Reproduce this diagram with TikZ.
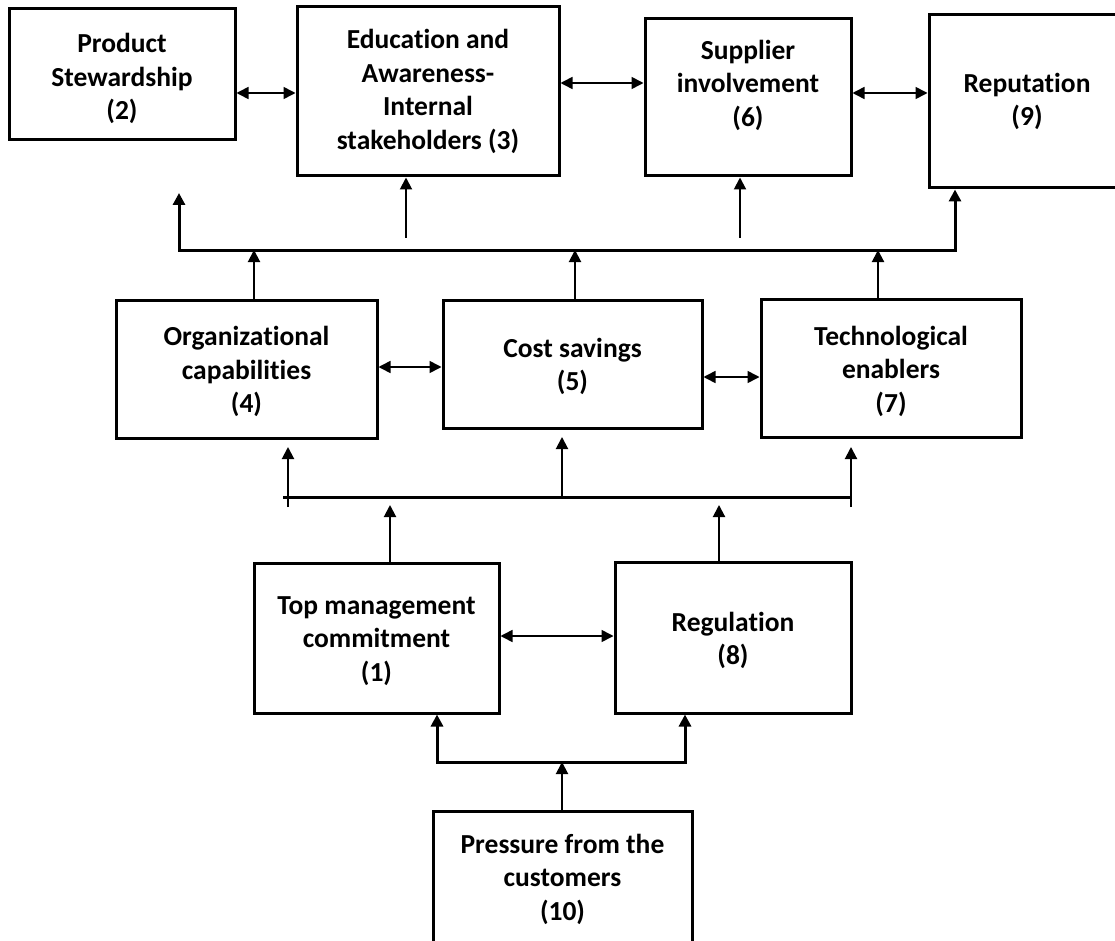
\documentclass[tikz,border=0pt]{standalone}
\usepackage{fontspec}
\setmainfont{Carlito}[Ligatures={NoCommon,NoContextual}]
\usetikzlibrary{arrows.meta}
\newcommand{\nti}{t\kern0pt i}
\begin{document}
\begin{tikzpicture}[x=1pt,y=-1pt,
  box/.style={draw=black, line width=3pt, inner sep=0pt},
  txt/.style={inner sep=0pt, align=center,
    font=\fontsize{27.5}{33.5}\selectfont\bfseries, text=black},
  conn/.style={line width=2pt, -{Triangle[length=12pt,width=12pt]}},
  dconn/.style={line width=1.6pt, {Triangle[length=12pt,width=12pt]}-{Triangle[length=12pt,width=12pt]}},
  busline/.style={line width=3pt},
]
\useasboundingbox (0,0) rectangle (1115,941);

% boxes
\node[box, minimum width=226, minimum height=131] (n2) at (122,74.5) {};
\node[box, minimum width=262, minimum height=169] (n3) at (428,91.5) {};
\node[box, minimum width=206, minimum height=157] (n6) at (748,97.5) {};
\node[box, minimum width=196, minimum height=173] (n9) at (1027,101.5) {};
\node[box, minimum width=261, minimum height=138] (n4) at (246.5,369) {};
\node[box, minimum width=259, minimum height=128] (n5) at (572.5,364) {};
\node[box, minimum width=260, minimum height=138] (n7) at (891,368) {};
\node[box, minimum width=245, minimum height=150] (n1) at (376.5,638) {};
\node[box, minimum width=236, minimum height=151] (n8) at (733,637.5) {};
\node[box, minimum width=259, minimum height=134] (n10) at (562.5,878) {};

% texts
\node[txt] (t2) at ([yshift=-4pt]n2.center) {Product\\Stewardship\\(2)};
\node[txt] (t3) at (n3.center) {Educa\nti on and\\Awareness-\\Internal\\stakeholders (3)};
\node[txt] (t6) at ([yshift=12.5pt]n6.center) {Supplier\\involvement\\(6)};
\node[txt] (t9) at (n9.center) {Reputa\nti on\\(9)};
\node[txt] (t4) at ([yshift=-2.5pt]n4.center) {Organiza\nti onal\\capabili\nti es\\(4)};
\node[txt] (t5) at ([yshift=-2.5pt]n5.center) {Cost savings\\(5)};
\node[txt] (t7) at ([yshift=-3pt]n7.center) {Technological\\enablers\\(7)};
\node[txt] (t1) at ([yshift=-3pt]n1.center) {Top management\\commitment\\(1)};
\node[txt] (t8) at ([yshift=-3pt]n8.center) {Regula\nti on\\(8)};
\node[txt] (t10) at ([yshift=-1pt]n10.center) {Pressure from the\\customers\\(10)};

% horizontal double arrows
\coordinate (y23) at (0,93);
\coordinate (y36) at (0,83);
\coordinate (y69) at (0,93);
\coordinate (y45) at (0,367);
\coordinate (y57) at (0,377);
\coordinate (y18) at (0,636);
\draw[dconn] (n2.east |- y23) -- (n3.west |- y23);
\draw[dconn] (n3.east |- y36) -- (n6.west |- y36);
\draw[dconn] (n6.east |- y69) -- (n9.west |- y69);
\draw[dconn] (n4.east |- y45) -- (n5.west |- y45);
\draw[dconn] (n5.east |- y57) -- (n7.west |- y57);
\draw[dconn] (n1.east |- y18) -- (n8.west |- y18);

% upper bus
\coordinate (ubLt) at (179,193);
\coordinate (ubL) at (179,250);
\coordinate (ubR) at (955,250);
\draw[busline, {Triangle[length=12pt,width=12pt]}-{Triangle[length=12pt,width=12pt]}]
  (ubLt) -- (ubL) -- (ubR) -- (n9.south -| ubR);
\coordinate (a3) at (406,238);
\coordinate (a6) at (740,238);
\draw[conn] (a3) -- (n3.south -| a3);
\draw[conn] (a6) -- (n6.south -| a6);

% middle row up to upper bus
\coordinate (u4) at (254,250);
\coordinate (u5) at (575,250);
\coordinate (u7) at (878,250);
\draw[conn] (n4.north -| u4) -- (u4);
\draw[conn] (n5.north -| u5) -- (u5);
\draw[conn] (n7.north -| u7) -- (u7);

% lower bus
\coordinate (lbL) at (283,497);
\coordinate (lbR) at (851,497);
\draw[busline] (lbL) -- (lbR);
\coordinate (l4b) at (288,507);
\coordinate (l4t) at (288,447);
\coordinate (l5b) at (562,497);
\coordinate (l5t) at (562,437);
\coordinate (l7b) at (851,507);
\coordinate (l7t) at (851,447);
\draw[conn] (l4b) -- (l4t);
\draw[conn] (l5b) -- (l5t);
\draw[conn] (l7b) -- (l7t);
\coordinate (b1) at (390,505);
\coordinate (b8) at (719,505);
\draw[conn] (n1.north -| b1) -- (b1);
\draw[conn] (n8.north -| b8) -- (b8);

% bottom bus
\coordinate (bbL) at (437,762);
\coordinate (bbR) at (685,762);
\coordinate (b10) at (562,762);
\draw[busline, {Triangle[length=12pt,width=12pt]}-{Triangle[length=12pt,width=12pt]}]
  (n1.south -| bbL) -- (bbL) -- (bbR) -- (n8.south -| bbR);
\draw[conn] (n10.north -| b10) -- (b10);
\end{tikzpicture}
\end{document}
